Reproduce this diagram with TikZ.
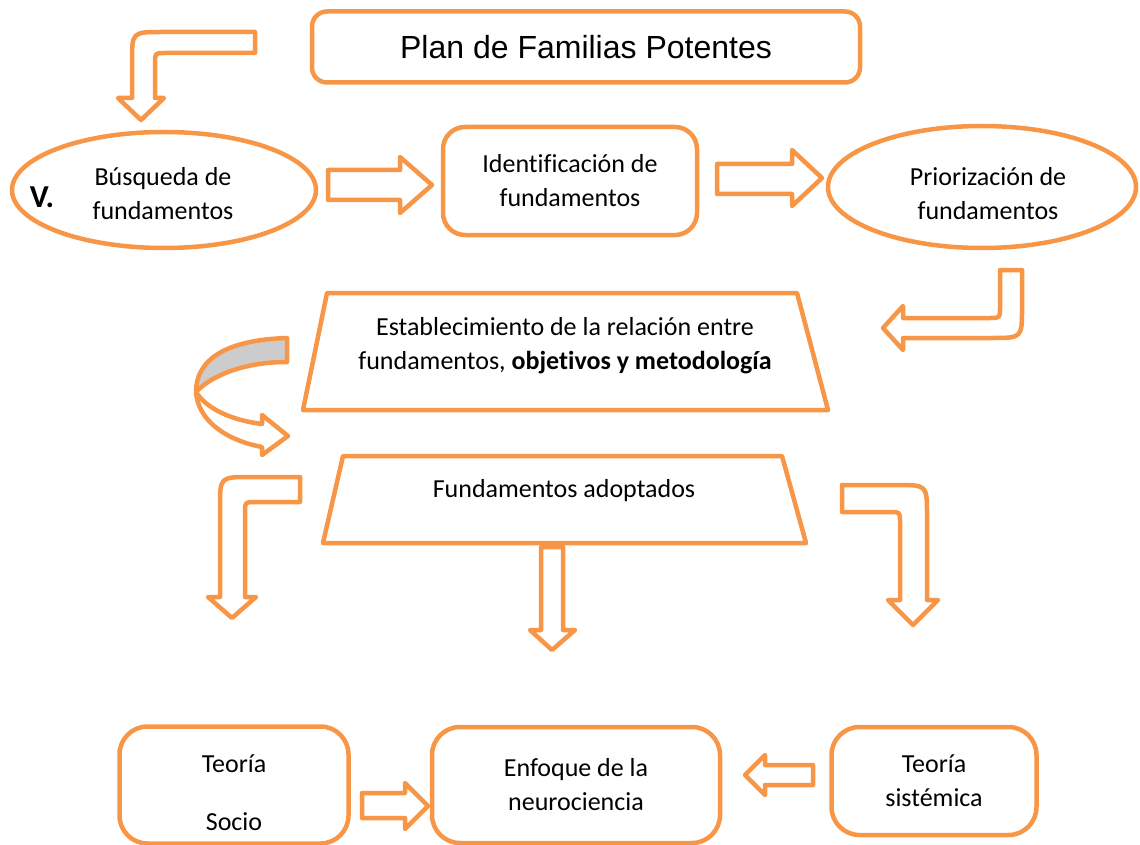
\documentclass[tikz,border=0pt]{standalone}
\usepackage{fontspec}
\setmainfont{Carlito}[Ligatures=CommonOff]
\newfontfamily\titlefont{Liberation Sans}
\usepackage{tikz}
\usetikzlibrary{shapes.geometric}
\definecolor{famorange}{HTML}{F79646}
\tikzstyle{stage}=[rectangle, rounded corners=22pt, draw=famorange, line width=4.5pt, align=center, font=\fontsize{26}{34}\selectfont]
\tikzstyle{phase}=[ellipse, draw=famorange, line width=4.5pt, inner sep=0pt, align=center, font=\fontsize{26}{34}\selectfont]
\tikzstyle{plaintext}=[align=center, font=\fontsize{26}{34}\selectfont]
\tikzstyle{hollow}=[draw=famorange, line width=4.5pt, line join=round, fill=white]
\tikzstyle{trap}=[draw=famorange, line width=4.5pt, line join=round]

\begin{document}
\begin{tikzpicture}[x=1pt, y=-1pt]
  \useasboundingbox (0,0) rectangle (1140,845);

  \node[stage, rounded corners=15pt, minimum width=548pt, minimum height=71pt,
        font=\titlefont\fontsize{32}{38}\selectfont] (plan) at (586,47) {Plan de Familias Potentes};

  \node[phase, minimum width=304pt, minimum height=116pt] (busq) at (164,190) {};
  \node[plaintext] (busqtext) at (163,194) {Búsqueda de\\fundamentos};
  \node[font=\fontsize{32}{38}\selectfont\bfseries] (vmark) at (42,197) {V.};
  \node[stage, minimum width=254pt, minimum height=108pt] (ident) at (570,181) {Identificación de\\fundamentos};
  \node[phase, minimum width=308pt, minimum height=122pt] (prior) at (982,187) {};
  \node[plaintext] (priortext) at (988,194) {Priorización de\\fundamentos};

  % arrows of the top row
  \draw[hollow] (255,32) -- (162,32) .. controls (132,32) .. (132,62) -- (132,98) -- (118,98)
    -- (141,120) -- (164,98) -- (155,98) -- (155,63) .. controls (155,53) .. (165,53) -- (255,53) -- cycle;
  \draw[hollow] (328,170) -- (400,170) -- (400,157) -- (432,185) -- (400,213) -- (400,200) -- (328,200) -- cycle;
  \draw[hollow] (717,164) -- (792,164) -- (792,150) -- (822,178) -- (792,206) -- (792,194) -- (717,194) -- cycle;
  \draw[hollow] (1000,270) -- (1022,270) -- (1022,308) .. controls (1022,338) .. (992,338) -- (903,338)
    -- (903,350) -- (883,328) -- (903,306) -- (903,318) -- (990,318) .. controls (1000,318) .. (1000,308) -- cycle;

  \draw[trap] (327,293) -- (797,293) -- (828,410) -- (303,410) -- cycle;
  \node[plaintext] (estab) at (565,346) {Establecimiento de la relación entre\\fundamentos, \textbf{objetivos y metodología}};

  % curved arrow
  \filldraw[hollow, fill=black!20] (287,338) .. controls (225,340) and (196,360) .. (196,392)
    .. controls (212,375) and (245,362) .. (287,362) -- cycle;
  \draw[hollow] (196,392) .. controls (198,420) and (225,440) .. (262,447) -- (262,455) -- (288,436)
    -- (262,415) -- (262,424) .. controls (230,420) and (206,408) .. (196,392);

  \draw[trap] (343,456) -- (782,456) -- (806,543) -- (323,543) -- cycle;
  \node[plaintext] (adopt) at (564,491) {Fundamentos adoptados};

  % arrows down
  \draw[hollow] (300,477) -- (250,477) .. controls (220,477) .. (220,507) -- (220,597) -- (208,597)
    -- (232,618) -- (256,597) -- (245,597) -- (245,512) .. controls (245,502) .. (255,502) -- (300,502) -- cycle;
  \draw[hollow] (541,547) -- (563,547) -- (563,630) -- (575,630) -- (552,650) -- (530,630) -- (541,630) -- cycle;
  \draw[hollow] (842,485) -- (897,485) .. controls (927,485) .. (927,515) -- (927,600) -- (938,600)
    -- (913,625) -- (888,600) -- (900,600) -- (900,522) .. controls (900,512) .. (890,512) -- (842,512) -- cycle;

  \node[stage, rounded corners=28pt, minimum width=229pt, minimum height=117pt] (socio) at (234,785) {};
  \node[plaintext] (sociotext) at (234,793) {Teoría\\[24pt]Socio};
  \node[stage, rounded corners=28pt, minimum width=288pt, minimum height=116pt] (enfoque) at (576,785) {Enfoque de la\\neurociencia};
  \node[stage, rounded corners=28pt, minimum width=205pt, minimum height=108pt] (sistem) at (934,781) {Teoría\\sistémica};

  \draw[hollow] (362,793) -- (405,793) -- (405,783) -- (428,806) -- (405,829) -- (405,818) -- (362,818) -- cycle;
  \draw[hollow] (813,765) -- (765,765) -- (765,755) -- (745,775) -- (765,795) -- (765,785) -- (813,785) -- cycle;
\end{tikzpicture}
\end{document}
